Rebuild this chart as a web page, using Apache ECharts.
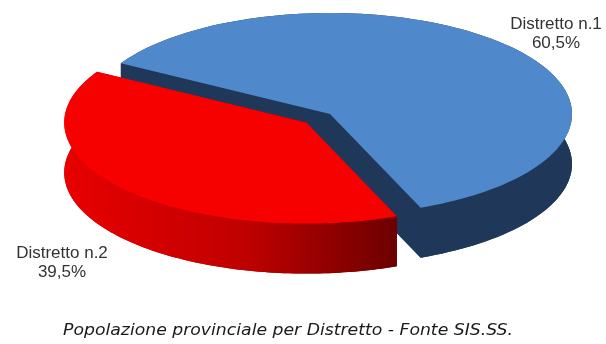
<!DOCTYPE html>
<html>
<head>
<meta charset="utf-8">
<script src="https://cdn.jsdelivr.net/npm/echarts@6/dist/echarts.min.js"></script>
<style>
html,body{margin:0;padding:0;background:#fff;}
#chart{width:606px;height:344px;}
</style>
</head>
<body>
<div id="chart"></div>
<script>
// ---- data ----
const categories = ['Distretto n.1', 'Distretto n.2'];
const values = [60.5, 39.5];
const captionText = 'Popolazione provinciale per Distretto - Fonte SIS.SS.';

// ---- layout / style ----
const CX = 330, CY = 114, RX = 242, RY = 101, DEPTH = 50;
const START_DEG = 292;            // first slice starts here, going counter-clockwise
const explode = [0, 0.13];
const labelAnchors = [[556, 34], [62, 263]];
const topColors = ['#5088cc', '#f70000'];
const sideColors = [
  '#1f385a',
  new echarts.graphic.LinearGradient(0, 0, 1, 0, [
    { offset: 0, color: '#e80000' },
    { offset: 0.55, color: '#bf0000' },
    { offset: 1, color: '#6c0000' }
  ])
];

const total = values.reduce((s, v) => s + v, 0);

function fmtPct(v) {
  return (v / total * 100).toFixed(1).replace('.', ',') + '%';
}

function renderItem(params, api) {
  const i = params.dataIndex;
  let before = 0;
  for (let j = 0; j < i; j++) before += values[j];
  const v = api.value(0);
  const a0 = (START_DEG + before / total * 360) * Math.PI / 180;
  const a1 = a0 + v / total * 2 * Math.PI;
  const mid = (a0 + a1) / 2;
  const e = explode[i] || 0;
  const cx = CX + e * RX * Math.cos(mid);
  const cy = CY - e * RY * Math.sin(mid);
  const P = (t, dy) => [cx + RX * Math.cos(t), cy - RY * Math.sin(t) + (dy || 0)];
  const steps = 120;
  const topArc = [], botArc = [];
  for (let k = 0; k <= steps; k++) {
    const t = a0 + (a1 - a0) * k / steps;
    topArc.push(P(t, 0));
    botArc.push(P(t, DEPTH));
  }
  const side = sideColors[i];
  const children = [];
  // bottom face
  children.push({ type: 'polygon', shape: { points: [[cx, cy + DEPTH]].concat(botArc) },
    style: { fill: side } });
  // cut faces
  [a0, a1].forEach(a => {
    children.push({ type: 'polygon',
      shape: { points: [[cx, cy], P(a, 0), P(a, DEPTH), [cx, cy + DEPTH]] },
      style: { fill: side } });
  });
  // outer wall
  children.push({ type: 'polygon',
    shape: { points: topArc.concat(botArc.slice().reverse()) },
    style: { fill: side } });
  // top face
  children.push({ type: 'polygon', shape: { points: [[cx, cy]].concat(topArc) },
    style: { fill: topColors[i] } });
  // label
  const la = labelAnchors[i];
  children.push({ type: 'text', x: la[0], y: la[1],
    style: { text: categories[i] + '\n' + fmtPct(v), fill: '#333333',
      fontSize: 17, fontFamily: 'Liberation Sans, Arial, sans-serif',
      align: 'center', verticalAlign: 'middle', lineHeight: 19 } });
  return { type: 'group', children: children };
}

const chart = echarts.init(document.getElementById('chart'), null, { renderer: 'canvas' });
chart.setOption({
  animation: false,
  backgroundColor: '#fff',
  graphic: [{
    type: 'text',
    x: 63, y: 331,
    scaleX: 1.15,
    style: {
      text: captionText,
      fill: '#1a1a1a',
      font: 'italic 15px "DejaVu Sans"',
      align: 'left', verticalAlign: 'middle'
    }
  }],
  series: [{
    type: 'custom',
    coordinateSystem: 'none',
    data: values.map((v, i) => ({ name: categories[i], value: v })),
    renderItem: renderItem
  }]
});
</script>
</body>
</html>
